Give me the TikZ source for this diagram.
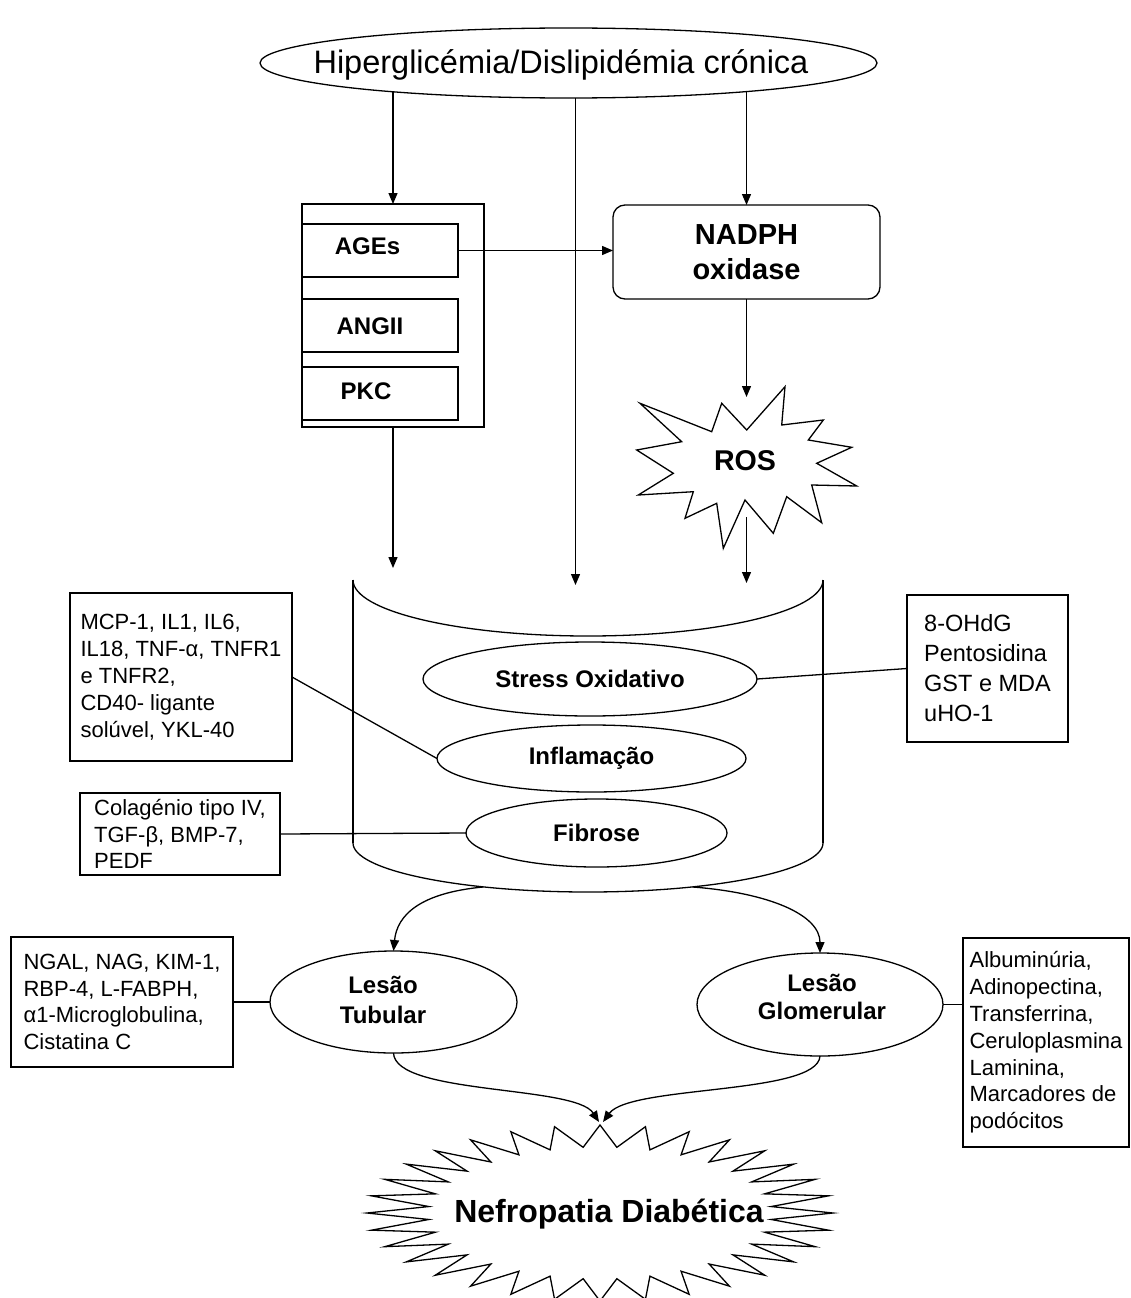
\documentclass[tikz,border=0pt]{standalone}
\usepackage{fontspec}
\setmainfont{Liberation Sans}
\usetikzlibrary{arrows.meta,shapes.geometric,backgrounds}
\newcommand{\fsz}[2]{\fontsize{#1}{#2}\selectfont}
\begin{document}
\begin{tikzpicture}[x=1pt,y=-1pt,
 every node/.style={inner sep=0pt,outer sep=0pt},
 plain/.style={line width=1.3pt},
 arr/.style={line width=1.3pt,-{Triangle[length=11pt,width=9pt]}},
 tbox/.style={draw,line width=1.3pt,align=left,anchor=north west,font=\fsz{22}{26.8}},
 rbox/.style={draw,line width=1.3pt,anchor=north west},
 ell/.style={draw,line width=1.3pt,ellipse,fill=white},
 lab/.style={font=\bfseries\fsz{24}{29},align=center},
]
\useasboundingbox (0,0) rectangle (1130,1298);
\clip (0,0) rectangle (1130,1298);

% top ellipse
\node[ell, minimum width=617, minimum height=70] (hyp) at (568.5,63) {};
\node[font=\fsz{32.5}{39}] (hypT) at (561,65) {Hiperglicémia/Dislipidémia crónica};

% group of boxes
\node[rbox, minimum width=182, minimum height=223] (grp) at (302,204) {};
\node[rbox, minimum width=156, minimum height=53] (ages) at (302,224) {};
\node[lab] (agesT) at (367.5,246) {AGEs};
\node[rbox, minimum width=156, minimum height=53] (angii) at (302,299) {};
\node[lab] (angiiT) at (370,326.5) {ANGII};
\node[rbox, minimum width=156, minimum height=53] (pkc) at (302,367) {};
\node[lab] (pkcT) at (366,391.5) {PKC};

% NADPH oxidase
\node[draw, line width=1.3pt, rounded corners=12pt, minimum width=267, minimum height=94,
      font=\bfseries\fsz{29}{35}, align=center] (nadph) at (746.5,252) {NADPH\\oxidase};

% ROS star
\draw[plain, fill=white] (640,403.3) -- (711.7,431.7) -- (721.7,403.3) -- (746.7,430)
  -- (785,386.7) -- (781.7,425) -- (823.3,420) -- (808.3,440) -- (851.7,447.3)
  -- (816.7,463.3) -- (856.7,486) -- (811.7,485) -- (821.7,522.7) -- (786.7,496.7)
  -- (773.3,533.3) -- (745,500) -- (723.3,548.3) -- (716.7,503.3) -- (685,518.3)
  -- (693.3,491.7) -- (638.3,495) -- (673.3,473.3) -- (636.7,450) -- (681.7,441.7) -- cycle;
\node[font=\bfseries\fsz{28.6}{34}] (ros) at (745,461) {ROS};

% cylinder
\draw[plain] (353,580) .. controls (353,611) and (458,636) .. (588,636)
  .. controls (718,636) and (823,611) .. (823,580);
\draw[plain] (353,580) -- (353,843);
\draw[plain] (823,580) -- (823,843);
\draw[plain] (353,843) .. controls (353,870) and (458,892) .. (588,892)
  .. controls (718,892) and (823,870) .. (823,843);

\coordinate (grpEnd) at (393,568);
\coordinate (midEnd) at (575.5,585);
\coordinate (rosTop) at (746.5,397);
\coordinate (rosBot) at (746.5,517);
\coordinate (rosEnd) at (746.5,583);
\coordinate (cylL) at (483,887);
\coordinate (cylR) at (693,887);
\coordinate (starL) at (599,1122);
\coordinate (starR) at (603,1122);

% inner ellipses
\node[ell, lab, minimum width=334, minimum height=74] (stress) at (590,679) {Stress Oxidativo};
\node[ell, lab, minimum width=309, minimum height=67] (infl) at (591.5,758.5) {Inflamação};
\node[ell, lab, minimum width=261, minimum height=68] (fib) at (596.5,833) {Fibrose};

% marker boxes
\node[tbox, font=\fsz{22}{27}, minimum width=222, minimum height=168] (mcp) at (70,593)
  {MCP-1, IL1, IL6,\\IL18, TNF-α, TNFR1\\e TNFR2,\\CD40- ligante\\solúvel, YKL-40};
\node[tbox, font=\fsz{23.5}{30}, minimum width=161, minimum height=147] (oxb) at (907,595)
  {8-OHdG\\Pentosidina\\GST e MDA\\uHO-1};
\node[tbox, font=\fsz{22}{26.5}, minimum width=200, minimum height=82] (colb) at (80,793)
  {Colagénio tipo IV,\\TGF-β, BMP-7,\\PEDF};

% lesions
\node[ell, minimum width=247, minimum height=102] (tub) at (393.5,1002) {};
\node[lab, font=\bfseries\fsz{24}{30}] (tubT) at (383,999.5) {Lesão\\Tubular};
\node[ell, minimum width=246, minimum height=103] (glo) at (820,1004.5) {};
\node[lab, font=\bfseries\fsz{24}{28}] (gloT) at (822,997) {Lesão\\Glomerular};
\node[tbox, minimum width=222, minimum height=130] (ngal) at (11,937)
  {NGAL, NAG, KIM-1,\\RBP-4, L-FABPH,\\α1-Microglobulina,\\Cistatina C};
\node[tbox, minimum width=166, minimum height=209] (glob) at (963,938)
  {Albuminúria,\\Adinopectina,\\Transferrina,\\Ceruloplasmina\\Laminina,\\Marcadores de\\podócitos};

% bottom star
\draw[plain, fill=white] (600,1125)
  \foreach \i in {1,...,32} {
    -- ({600+172*cos(90+\i*11.25-5.625)},{1213-66*sin(90+\i*11.25-5.625)})
    -- ({600+233*cos(90+\i*11.25)},{1213-88*sin(90+\i*11.25)})
  } -- cycle;
\node[font=\bfseries\fsz{32}{38}] (nd) at (609,1213.6) {Nefropatia Diabética};

% connectors
\begin{scope}[on background layer]
\draw[arr] (grp.north |- hyp.center) -- (grp.north);
\draw[arr] (midEnd |- hyp.center) -- (midEnd);
\draw[arr] (nadph.north |- hyp.center) -- (nadph.north);
\end{scope}
\draw[arr] (ages.east) -- (ages.east -| nadph.west);
\draw[arr] (nadph.south) -- (rosTop);
\draw[arr] (grp.south) -- (grpEnd);
\draw[arr] (rosBot) -- (rosEnd);
\draw[plain] (mcp.east) -- (infl.west);
\draw[plain] (colb.east) -- (fib.west);
\draw[plain] (stress.east) -- (oxb.west);
\draw[plain] (ngal.east) -- (tub.west);
\draw[plain] (glo.east) -- (glo.east -| glob.west);
\draw[arr] (cylL) .. controls (420,893) and (397,915) .. (tub.north);
\draw[arr] (cylR) .. controls (770,893) and (820,915) .. (glo.north);
\draw[arr] (tub.south) .. controls (395,1095) and (575,1085) .. (starL);
\draw[arr] (glo.south) .. controls (818,1095) and (630,1085) .. (starR);
\end{tikzpicture}
\end{document}
